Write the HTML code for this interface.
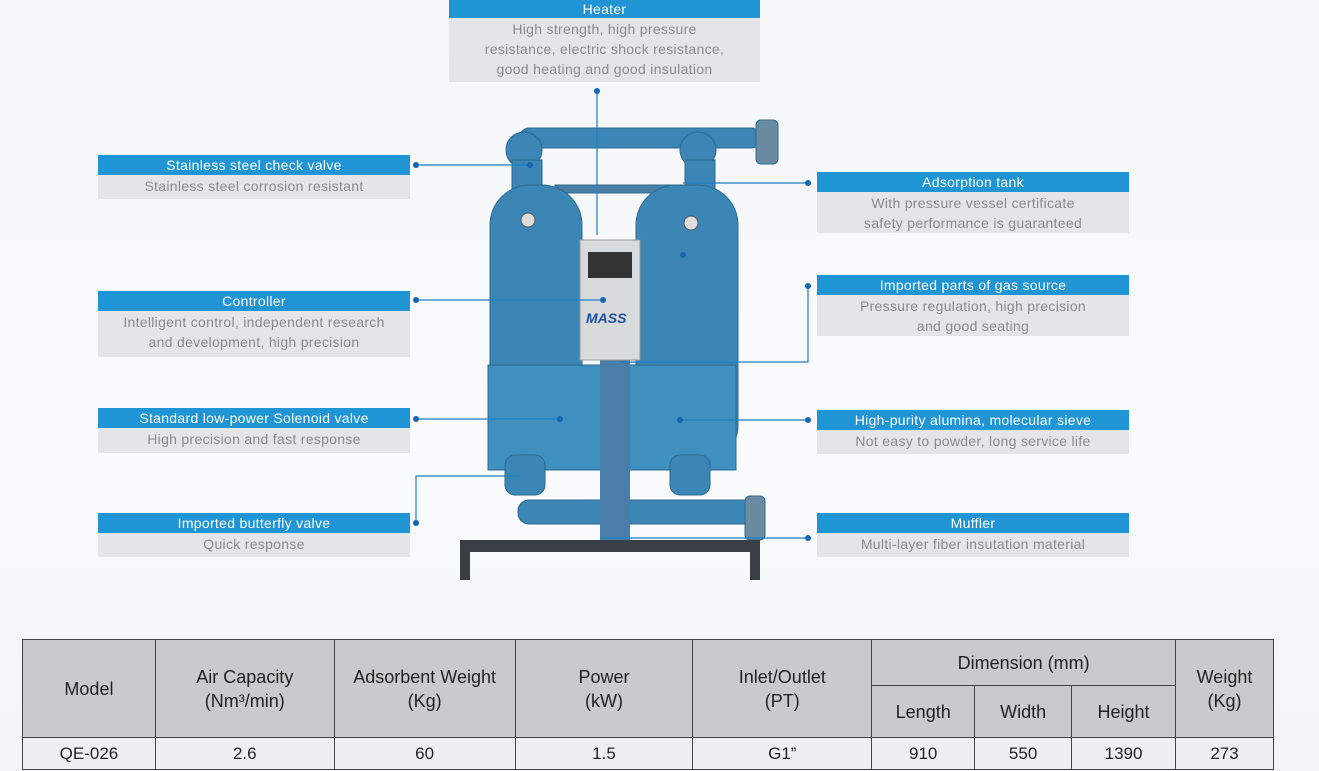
<!DOCTYPE html>
<html><head><meta charset="utf-8"><style>
body{margin:0;width:1319px;height:771px;overflow:hidden;background:linear-gradient(#f4f6f8,#fafbfc 60%,#f2f4f6);font-family:"Liberation Sans",sans-serif;position:relative}
.b{position:absolute;background:#1f95d5;color:#fff;font-size:14px;text-align:center;line-height:20px;height:20px;letter-spacing:.3px}
.g{position:absolute;background:#e4e5e7;color:#8a8a8a;font-size:14px;text-align:center;line-height:20px;letter-spacing:.3px;padding-top:1px}
table{position:absolute;left:22px;top:639px;width:1252px;border-collapse:collapse;font-size:18px;color:#222;line-height:24px}
td{border:1.5px solid #444;text-align:center;padding:0}
.h td{background:#c9cacb}
</style></head><body>
<svg style="position:absolute;left:0;top:0" width="1319" height="771">
<g fill="#3b86b4" stroke="#2a6a92" stroke-width="1">
<rect x="520" y="128" width="240" height="20" rx="9"/>
<rect x="756" y="120" width="22" height="44" rx="5" fill="#6a8aa0"/>
<circle cx="524" cy="150" r="18"/><circle cx="698" cy="150" r="18"/>
<rect x="512" y="160" width="30" height="40"/><rect x="685" y="160" width="30" height="40"/>
<rect x="555" y="185" width="130" height="8" fill="#4a7fa3"/>
<rect x="490" y="185" width="92" height="280" rx="40"/>
<rect x="636" y="185" width="102" height="280" rx="40"/>
<rect x="488" y="365" width="248" height="105" fill="#3f8fbf"/>
<rect x="505" y="455" width="40" height="40" rx="10"/><rect x="670" y="455" width="40" height="40" rx="10"/>
<rect x="518" y="500" width="240" height="24" rx="11"/>
<rect x="745" y="496" width="20" height="44" rx="5" fill="#6a8aa0"/>
</g>
<g fill="#3a3f45"><rect x="460" y="540" width="300" height="12"/><rect x="460" y="540" width="10" height="40"/><rect x="750" y="540" width="10" height="40"/><rect x="600" y="360" width="30" height="180" fill="#4a7ea8"/></g>
<rect x="580" y="240" width="60" height="120" fill="#d8dadc" stroke="#999"/>
<rect x="588" y="252" width="44" height="26" fill="#333"/>
<text x="586" y="323" font-size="14" font-weight="bold" font-style="italic" fill="#1c4fa0">MASS</text>
<circle cx="528" cy="220" r="7" fill="#ddd" stroke="#555"/><circle cx="691" cy="223" r="7" fill="#ddd" stroke="#555"/>
<g stroke="#1f7ec0" stroke-width="1.2" fill="none">
<path d="M416 165H530M416 300H603M416 419H560M416 523V476H520M808 183H683M808 286V362H620M808 420H680M808 538H600M597 91V235"/>
</g>
<g fill="#1565b0">
<circle cx="416" cy="165" r="3"/><circle cx="416" cy="300" r="3"/><circle cx="416" cy="419" r="3"/><circle cx="416" cy="523" r="3"/>
<circle cx="808" cy="183" r="3"/><circle cx="808" cy="286" r="3"/><circle cx="808" cy="420" r="3"/><circle cx="808" cy="538" r="3"/><circle cx="597" cy="91" r="3"/>
<circle cx="530" cy="165" r="3"/><circle cx="603" cy="300" r="3"/><circle cx="560" cy="419" r="3"/><circle cx="683" cy="255" r="3"/><circle cx="680" cy="420" r="3"/>
</g>
</svg>
<div class="b" style="left:449px;top:0;width:311px;height:18px;line-height:18px">Heater</div>
<div class="g" style="left:449px;top:18px;width:311px;height:63px">High strength, high pressure<br>resistance, electric shock resistance,<br>good heating and good insulation</div>
<div class="b" style="left:98px;top:155px;width:312px">Stainless steel check valve</div>
<div class="g" style="left:98px;top:175px;width:312px;height:23px">Stainless steel corrosion resistant</div>
<div class="b" style="left:98px;top:291px;width:312px">Controller</div>
<div class="g" style="left:98px;top:311px;width:312px;height:45px">Intelligent control, independent research<br>and development, high precision</div>
<div class="b" style="left:98px;top:408px;width:312px">Standard low-power Solenoid valve</div>
<div class="g" style="left:98px;top:428px;width:312px;height:24px">High precision and fast response</div>
<div class="b" style="left:98px;top:513px;width:312px">Imported butterfly valve</div>
<div class="g" style="left:98px;top:533px;width:312px;height:23px">Quick response</div>
<div class="b" style="left:817px;top:172px;width:312px">Adsorption tank</div>
<div class="g" style="left:817px;top:192px;width:312px;height:40px">With pressure vessel certificate<br>safety performance is guaranteed</div>
<div class="b" style="left:817px;top:275px;width:312px">Imported parts of gas source</div>
<div class="g" style="left:817px;top:295px;width:312px;height:40px">Pressure regulation, high precision<br>and good seating</div>
<div class="b" style="left:817px;top:410px;width:312px">High-purity alumina, molecular sieve</div>
<div class="g" style="left:817px;top:430px;width:312px;height:23px">Not easy to powder, long service life</div>
<div class="b" style="left:817px;top:513px;width:312px">Muffler</div>
<div class="g" style="left:817px;top:533px;width:312px;height:23px">Multi-layer fiber insutation material</div>
<table>
<colgroup><col style="width:133px"><col style="width:179px"><col style="width:181px"><col style="width:178px"><col style="width:179px"><col style="width:103px"><col style="width:97px"><col style="width:104px"><col style="width:98px"></colgroup>
<tr class="h" style="height:46px"><td rowspan="2">Model</td><td rowspan="2">Air Capacity<br>(Nm³/min)</td><td rowspan="2">Adsorbent Weight<br>(Kg)</td><td rowspan="2">Power<br>(kW)</td><td rowspan="2">Inlet/Outlet<br>(PT)</td><td colspan="3">Dimension (mm)</td><td rowspan="2">Weight<br>(Kg)</td></tr>
<tr class="h" style="height:52px"><td>Length</td><td>Width</td><td>Height</td></tr>
<tr style="height:32px;background:#eeeff0;font-size:17px"><td>QE-026</td><td>2.6</td><td>60</td><td>1.5</td><td>G1”</td><td>910</td><td>550</td><td>1390</td><td>273</td></tr>
</table>
</body></html>
